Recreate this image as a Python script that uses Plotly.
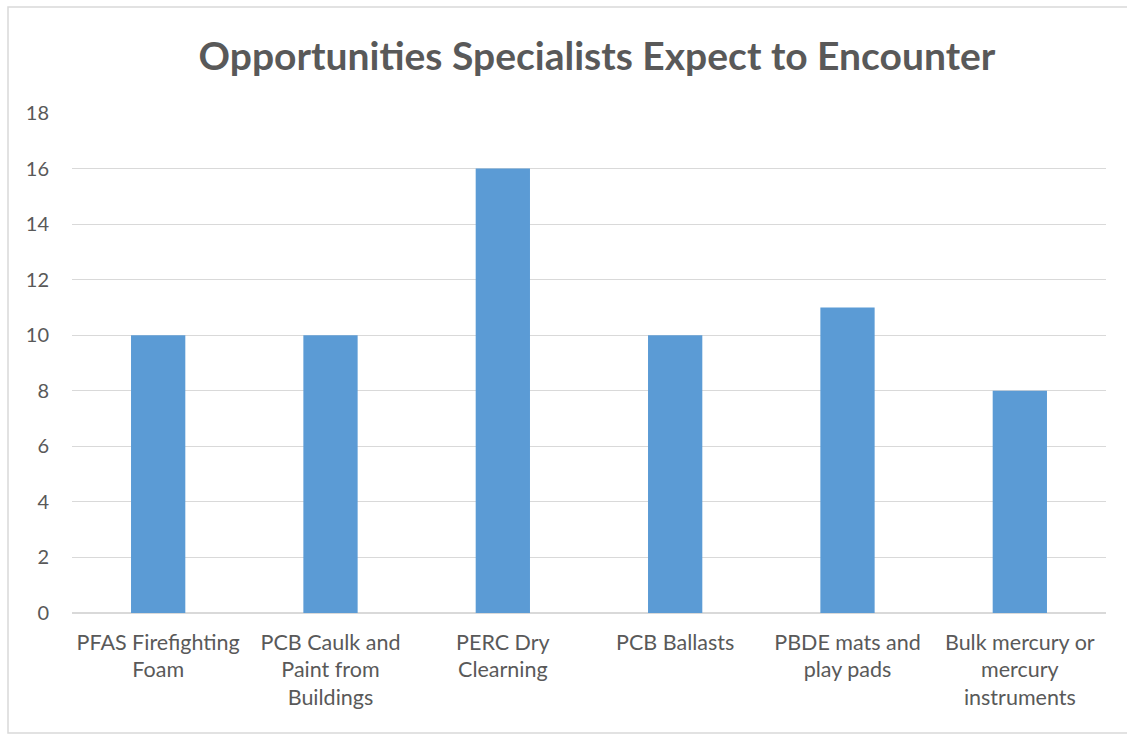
import plotly.graph_objects as go

categories = ["PFAS Firefighting<br>Foam", "PCB Caulk and<br>Paint from<br>Buildings",
              "PERC Dry<br>Clearning", "PCB Ballasts", "PBDE mats and<br>play pads",
              "Bulk mercury or<br>mercury<br>instruments"]
values = [10, 10, 16, 10, 11, 8]
y_ticks = [0, 2, 4, 6, 8, 10, 12, 14, 16, 18]

fig = go.Figure(go.Bar(x=categories, y=values, marker=dict(color="#5B9BD5", line=dict(width=0)),
                       width=0.315))

L, R, T, B = 72, 21, 113, 121
W, H = 1127, 734
pw, ph = W - L - R, H - T - B

fig.update_layout(
    width=W, height=H,
    margin=dict(l=L, r=R, t=T, b=B),
    paper_bgcolor="white", plot_bgcolor="white",
    font=dict(family="Lato, Open Sans, sans-serif", color="#595959", size=20),
    title=dict(text="<b>Opportunities Specialists Expect to Encounter</b>",
               x=597 / W, xanchor="center", y=1 - 56 / H, yanchor="middle",
               font=dict(size=39, color="#595959", family="Lato, Open Sans, sans-serif")),
    showlegend=False,
    xaxis=dict(showgrid=False, showline=False, ticks="", tickangle=0,
               ticklabelstandoff=14,
               tickfont=dict(size=21.5, color="#595959")),
    yaxis=dict(range=[0, 18], tickvals=y_ticks, showgrid=True, gridcolor="#D9D9D9",
               gridwidth=1, zeroline=True, zerolinecolor="#D9D9D9", zerolinewidth=2,
               showline=False, ticks="", ticklabelstandoff=22,
               tickfont=dict(size=20, color="#595959")),
    shapes=[dict(type="rect", xref="paper", yref="paper",
                 x0=(8 - L) / pw, x1=(1131 - L) / pw,
                 y0=(613 - 733) / ph, y1=(613 - 7) / ph,
                 line=dict(color="#D9D9D9", width=1.5), fillcolor="rgba(0,0,0,0)", layer="below")],
)

fig.write_html("out.html")
